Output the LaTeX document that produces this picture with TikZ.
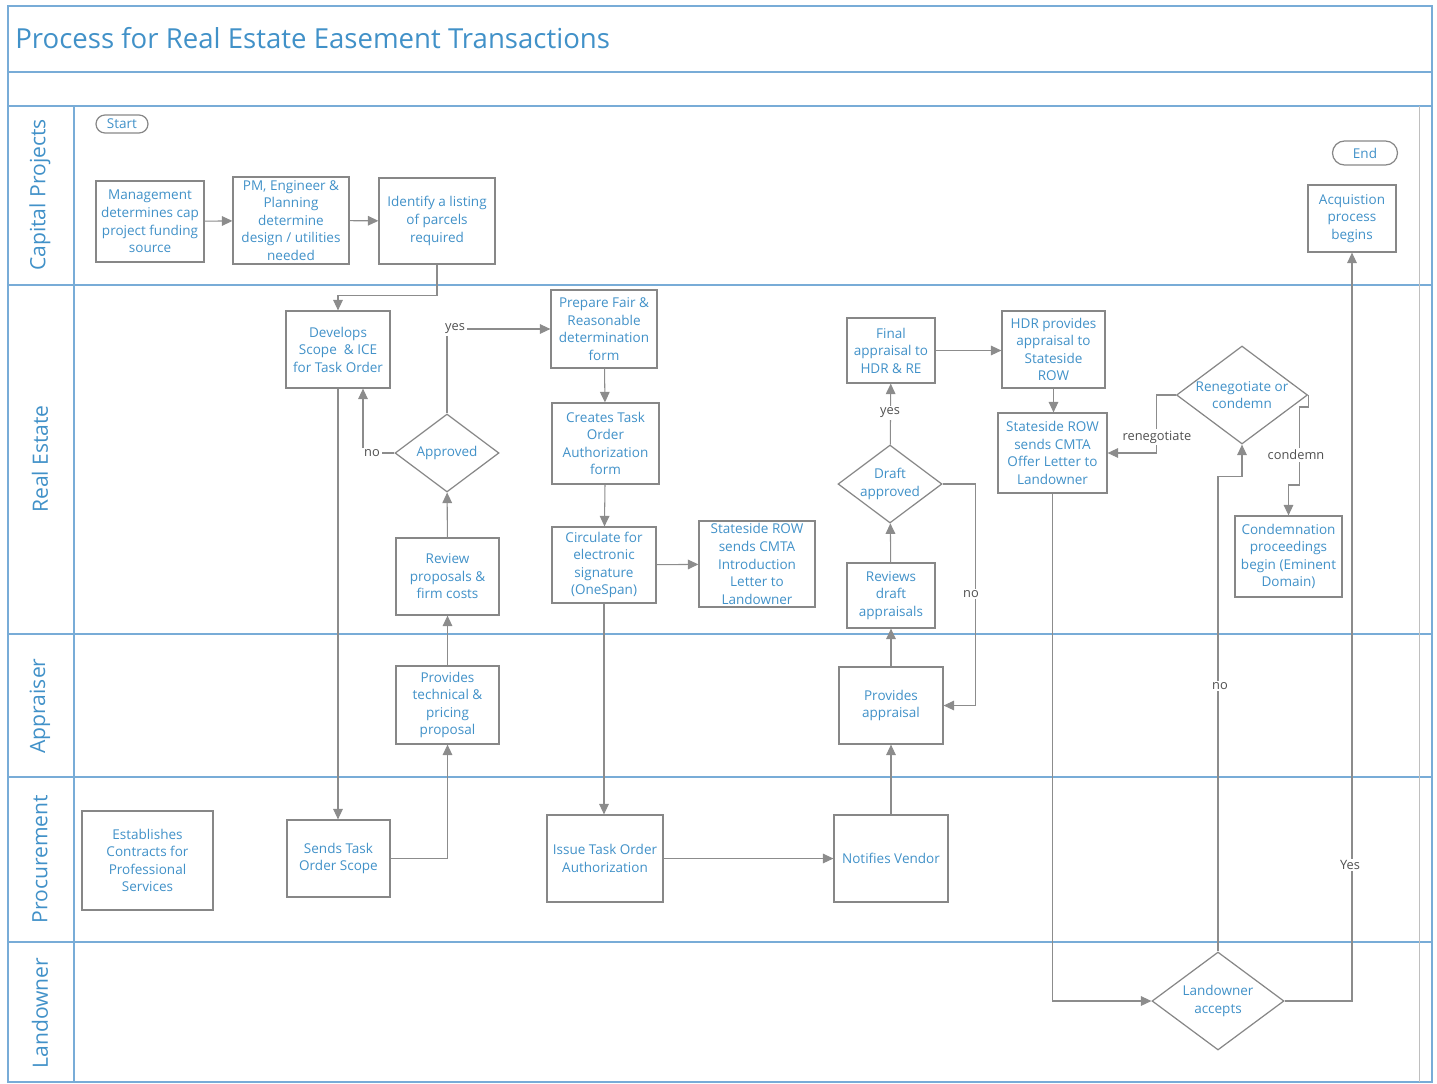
\documentclass[tikz,border=0pt]{standalone}
\usepackage{fontspec}
\setmainfont{Open Sans}
\usetikzlibrary{shapes.geometric,shapes.misc,arrows.meta}
\newcommand\pxu{0.02cm}
\definecolor{lanecol}{RGB}{120,172,215}
\definecolor{txtcol}{RGB}{65,145,200}
\definecolor{boxcol}{RGB}{135,135,135}
\definecolor{linecol}{RGB}{140,140,140}
\definecolor{lblcol}{RGB}{80,80,80}
\tikzset{
	task/.style 2 args={draw=boxcol, line width=0.7pt, text=txtcol, align=center, inner sep=1pt,
		font=\fontsize{7.7}{10}\selectfont, minimum width=#1*\pxu, minimum height=#2*\pxu},
	decision/.style 2 args={draw=boxcol, line width=0.7pt, diamond, inner sep=0pt,
		minimum width=#1*\pxu, minimum height=#2*\pxu},
	dectext/.style={text=txtcol, align=center, font=\fontsize{7.7}{10}\selectfont},
	terminal/.style 2 args={draw=boxcol, line width=0.7pt, rounded rectangle, text=txtcol, inner sep=0pt,
		font=\fontsize{7.7}{10}\selectfont, minimum width=#1*\pxu, minimum height=#2*\pxu},
	flow/.style={draw=linecol, line width=0.6pt, -{Triangle[width=5.5pt,length=6pt]}},
	edgelbl/.style={fill=white, text=lblcol, inner sep=1pt, font=\fontsize{7.3}{9}\selectfont},
	lane/.style={draw=lanecol, line width=0.9pt},
	lanename/.style={rotate=90, text=txtcol, font=\fontsize{12}{14}\selectfont},
}
\begin{document}
\begin{tikzpicture}[x=\pxu, y=-\pxu]
			%%%%% START %%%%%
			\useasboundingbox (0, 0) rectangle (1437, 1083);
			
			\draw[lane] (8, 6) rectangle (1432, 1082);
			\draw[lane] (8, 72) -- (1432, 72);
			\draw[lane] (8, 106) -- (1432, 106);
			\draw[lane] (8, 285) -- (1432, 285);
			\draw[lane] (8, 634) -- (1432, 634);
			\draw[lane] (8, 777) -- (1432, 777);
			\draw[lane] (8, 942) -- (1432, 942);
			\draw[lane] (74, 106) -- (74, 1082);
			\draw[line width=0.5pt, color=black!25] (1419, 106) -- (1419, 1082);
			
			\node[anchor=west, inner sep=0pt, text=txtcol, font=\fontsize{15.7}{18}\selectfont] (title) at (15, 38) {Process for Real Estate Easement Transactions};
			
			\node[lanename] (capproj) at (40, 195) {Capital Projects};
			\node[lanename] (realest) at (40, 459) {Real Estate};
			\node[lanename] (apprsr) at (40, 706) {Appraiser};
			\node[lanename] (procur) at (40, 859) {Procurement};
			\node[lanename] (landown) at (40, 1013) {Landowner};
			
			% capital projects
			\node[terminal={52}{18}] (start) at (122, 124) {Start};
			\node[terminal={65}{24}] (end) at (1365, 153) {End};
			\node[task={108}{81}] (mgmt) at (150, 221.5) {Management\\determines cap\\project funding\\source};
			\node[task={116}{87}] (pm) at (291, 220.5) {PM, Engineer \&\\Planning\\determine\\design / utilities\\needed};
			\node[task={116}{86}] (ident) at (437, 221) {Identify a listing\\of parcels\\required};
			\node[task={88}{67}] (acq) at (1352, 218.5) {Acquistion\\process\\begins};
			
			% real estate
			\node[task={104}{77}] (develops) at (338, 349.5) {Develops\\Scope \ \& ICE\\for Task Order};
			\node[task={106}{78}] (prepare) at (604, 329) {Prepare Fair \&\\Reasonable\\determination\\form};
			\node[task={107}{81}] (creates) at (605.5, 443.5) {Creates Task\\Order\\Authorization\\form};
			\node[decision={104}{78}, label={[dectext]center:Approved}] (approved) at (447, 453) {};
			\node[task={103}{77}] (review) at (447.5, 576.5) {Review\\proposals \&\\firm costs};
			\node[task={104}{76}] (circ) at (604, 565) {Circulate for\\electronic\\signature\\(OneSpan)};
			\node[task={116}{86}] (intro) at (757, 564) {Stateside ROW\\sends CMTA\\Introduction\\Letter to\\Landowner};
			\node[task={88}{65}] (final) at (891, 350.5) {Final\\appraisal to\\HDR \& RE};
			\node[decision={104}{78}, label={[dectext]center:Draft\\approved}] (draftok) at (890, 484) {};
			\node[task={88}{65}] (drafts) at (891, 595.5) {Reviews\\draft\\appraisals};
			\node[task={103}{77}] (hdr) at (1053.5, 349.5) {HDR provides\\appraisal to\\Stateside\\ROW};
			\node[task={109}{80}] (offer) at (1052.5, 453) {Stateside ROW\\sends CMTA\\Offer Letter to\\Landowner};
			\node[decision={131}{98}, label={[dectext]center:Renegotiate or\\condemn}] (reneg) at (1242, 395) {};
			\node[task={107}{81}] (condemn) at (1288.5, 556.5) {Condemnation\\proceedings\\begin (Eminent\\Domain)};
			
			% appraiser
			\node[task={103}{78}] (techprop) at (447.5, 705) {Provides\\technical \&\\pricing\\proposal};
			\node[task={104}{77}] (provappr) at (891, 705.5) {Provides\\appraisal};
			
			% procurement
			\node[task={131}{99}] (estab) at (147.5, 860.5) {Establishes\\Contracts for\\Professional\\Services};
			\node[task={103}{77}] (sends) at (338.5, 858.5) {Sends Task\\Order Scope};
			\node[task={116}{87}] (issue) at (605, 858.5) {Issue Task Order\\Authorization};
			\node[task={114}{87}] (notify) at (891, 858.5) {Notifies Vendor};
			
			% landowner
			\node[decision={132}{98}, label={[dectext]center:Landowner\\accepts}] (accepts) at (1218, 1001) {};
			
			% connectors
			\draw[flow] (mgmt) -- (pm);
			\draw[flow] (pm) -- (ident);
			\draw[flow] (ident.south) -- ++(0, 31) -| (develops.north);
			\draw[flow] (develops.south) -- (develops.south |- sends.north);
			\draw[flow] (sends.east) -| (techprop.south);
			\draw[flow] (techprop) -- (review);
			\draw[flow] (review) -- (approved);
			\draw[flow] (approved.west) -| ([xshift=25*\pxu]develops.south);
			\draw[flow] (approved.north) |- (prepare.west);
			\draw[flow] (prepare) -- (creates);
			\draw[flow] (creates) -- (circ);
			\draw[flow] (circ) -- (intro);
			\draw[flow] (circ.south) -- (circ.south |- issue.north);
			\draw[flow] (issue) -- (notify);
			\draw[flow] (notify) -- (provappr);
			\draw[flow] (provappr) -- (drafts);
			\draw[flow] (drafts) -- (draftok);
			\draw[flow] (draftok) -- (final);
			\draw[flow] (draftok.east) -- ++(33, 0) |- (provappr.east);
			\draw[flow] (final.east) -- (final.east -| hdr.west);
			\draw[flow] (hdr.south) -- (hdr.south |- offer.north);
			\draw[flow] (offer.south) |- (accepts.west);
			\draw[flow] (accepts.north) -- ++(0, -475) -| (reneg.south);
			\draw[flow] (accepts.east) -| (acq.south);
			\draw[flow] (reneg.west) -- ++(-19, 0) |- (offer.east);
			\draw[flow] (reneg.east) -- ++(0, 12) -- ++(-9, 0) -- ++(0, 78) -| (condemn.north);
			
			\node[edgelbl] (lno1) at (372, 453) {no};
			\node[edgelbl] (lyes1) at (455, 329) {yes};
			\node[edgelbl] (lyes2) at (890, 413) {yes};
			\node[edgelbl] (lno2) at (971, 594) {no};
			\node[edgelbl] (lreneg) at (1157, 437) {renegotiate};
			\node[edgelbl] (lcond) at (1296, 455) {condemn};
			\node[edgelbl] (lno3) at (1220, 686) {no};
			\node[edgelbl] (lyes3) at (1350, 865) {Yes};
			
			%%%%% END %%%%%
\end{tikzpicture}
\end{document}
